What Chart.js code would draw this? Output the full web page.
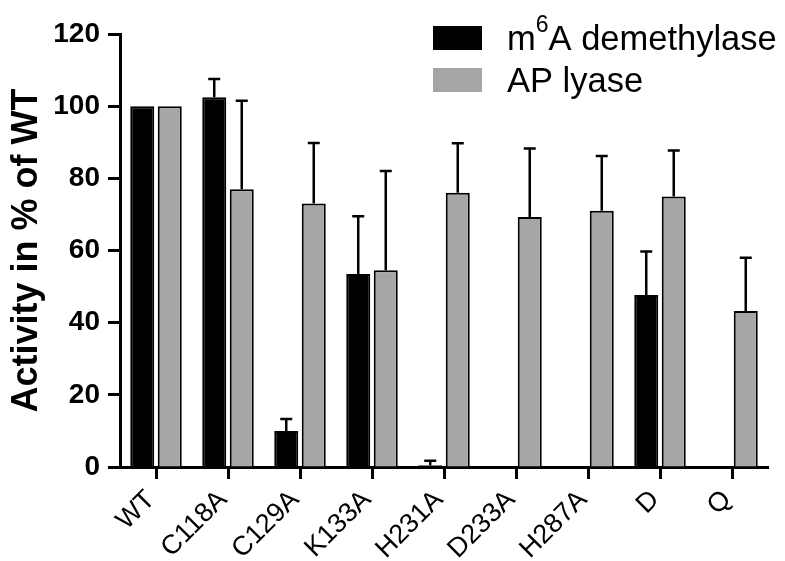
<!DOCTYPE html>
<html>
<head>
<meta charset="utf-8">
<script src="https://cdn.jsdelivr.net/npm/chart.js@4.4.1/dist/chart.umd.min.js"></script>
<style>
  html, body { margin: 0; padding: 0; background: #fff; }
  #wrap { width: 785px; height: 561px; position: relative; }
</style>
</head>
<body>
<div id="wrap"><canvas id="c" width="785" height="561"></canvas></div>
<script>
// ---- Data ----
const categories = ['WT', 'C118A', 'C129A', 'K133A', 'H231A', 'D233A', 'H287A', 'D', 'Q'];
const seriesNames = ['m\u2076A demethylase', 'AP lyase'];
const demethylase = [100, 102.5, 10, 53.5, 0.5, 0.3, 0, 47.7, 0];
const demethylaseErr = [0, 5, 3.3, 16, 1.2, 0, 0, 12, 0];
const lyase = [100, 77, 73, 54.5, 76, 69.3, 71, 75, 43.2];
const lyaseErr = [0, 24.5, 16.8, 27.5, 13.7, 19, 15.2, 12.7, 14.8];
const yTicks = [0, 20, 40, 60, 80, 100, 120];
const yTitle = 'Activity in % of WT';

const errors = [demethylaseErr, lyaseErr];

const errorBarPlugin = {
  id: 'errorBars',
  afterDatasetsDraw(chart) {
    const ctx = chart.ctx;
    const yScale = chart.scales.y;
    ctx.save();
    ctx.strokeStyle = '#000';
    ctx.lineWidth = 2.5;
    ctx.lineCap = 'butt';
    chart.data.datasets.forEach((ds, di) => {
      const meta = chart.getDatasetMeta(di);
      meta.data.forEach((bar, i) => {
        const e = errors[di][i];
        if (!e) return;
        const yTop = yScale.getPixelForValue(ds.data[i] + e);
        const yBase = bar.y;
        ctx.beginPath();
        ctx.moveTo(bar.x, yBase);
        ctx.lineTo(bar.x, yTop);
        ctx.moveTo(bar.x - 6, yTop);
        ctx.lineTo(bar.x + 6, yTop);
        ctx.stroke();
      });
    });
    ctx.restore();
  }
};

const supers = { '\u2076': '6' };
const legendPlugin = {
  id: 'customLegend',
  afterDraw(chart) {
    const ctx = chart.ctx;
    const ca = chart.chartArea;
    const boxX = ca.right - 335;
    const textX = boxX + 74;
    const baselines = [ca.top + 16, ca.top + 58];
    ctx.save();
    chart.data.datasets.forEach((ds, di) => {
      const base = baselines[di];
      ctx.fillStyle = ds.backgroundColor;
      ctx.fillRect(boxX, base - 24, 49, 24);
      ctx.fillStyle = '#000';
      ctx.textBaseline = 'alphabetic';
      ctx.textAlign = 'left';
      let x = textX;
      for (const ch of ds.label) {
        if (supers[ch]) {
          ctx.font = '23px "Liberation Sans", Arial, sans-serif';
          ctx.fillText(supers[ch], x, base - 18);
          x += ctx.measureText(supers[ch]).width;
        } else {
          ctx.font = '34.5px "Liberation Sans", Arial, sans-serif';
          ctx.fillText(ch, x, base);
          x += ctx.measureText(ch).width;
        }
      }
    });
    ctx.restore();
  }
};

new Chart(document.getElementById('c'), {
  type: 'bar',
  data: {
    labels: categories,
    datasets: [
      {
        label: seriesNames[0],
        data: demethylase,
        backgroundColor: '#000000',
        borderColor: '#000000',
        borderWidth: 2,
        categoryPercentage: 0.764,
        barPercentage: 0.873
      },
      {
        label: seriesNames[1],
        data: lyase,
        backgroundColor: '#a6a6a6',
        borderColor: '#000000',
        borderWidth: 2,
        categoryPercentage: 0.764,
        barPercentage: 0.873
      }
    ]
  },
  options: {
    responsive: false,
    animation: false,
    devicePixelRatio: 1,
    layout: { padding: { left: 0, right: 17, top: 34, bottom: 0 } },
    plugins: {
      legend: { display: false },
      tooltip: { enabled: false }
    },
    scales: {
      x: {
        offset: true,
        grid: {
          offset: false,
          drawOnChartArea: false,
          drawTicks: true,
          tickLength: 12,
          tickWidth: 3,
          tickColor: '#000'
        },
        border: { display: true, color: '#000', width: 3 },
        ticks: {
          color: '#000',
          font: { family: '"Liberation Sans", Arial, sans-serif', size: 27 },
          minRotation: 45,
          maxRotation: 45,
          padding: 5,
          labelOffset: -5,
          autoSkip: false
        },
        afterFit(scale) { scale.height = 94; }
      },
      y: {
        min: 0,
        max: 120,
        afterBuildTicks(scale) { scale.ticks = yTicks.map(v => ({ value: v })); },
        grid: {
          drawOnChartArea: false,
          drawTicks: true,
          tickLength: 12,
          tickWidth: 3,
          tickColor: '#000'
        },
        border: { display: true, color: '#000', width: 3 },
        ticks: {
          color: '#000',
          font: { family: '"Liberation Sans", Arial, sans-serif', size: 28, weight: 'bold' },
          padding: 8
        },
        title: {
          display: true,
          text: yTitle,
          color: '#000',
          font: { family: '"Liberation Sans", Arial, sans-serif', size: 36, weight: 'bold' },
          padding: { top: 5, bottom: 0 }
        },
        afterFit(scale) { scale.width = 120; }
      }
    }
  },
  plugins: [errorBarPlugin, legendPlugin]
});
</script>
</body>
</html>
